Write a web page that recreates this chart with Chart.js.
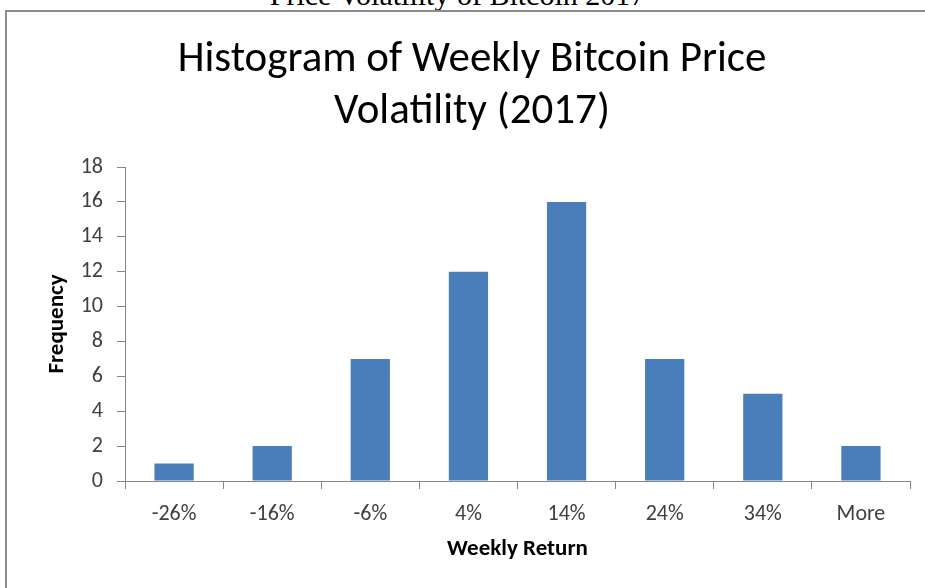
<!DOCTYPE html>
<html lang="en">
<head>
    <meta charset="UTF-8">
    <title>Histogram of Weekly Bitcoin Price Volatility (2017)</title>
    <script src="https://cdn.jsdelivr.net/npm/chart.js@4"></script>
    <style>
        html, body { margin: 0; padding: 0; background: #fff; overflow: hidden; }
        .page { position: relative; width: 925px; height: 588px; overflow: hidden; }
        .caption {
            position: absolute; left: -5px; width: 925px; top: -20px; line-height: 30px;
            text-align: center; font-size: 30px; font-family: "Liberation Serif", "DejaVu Serif", serif; color: #000;
        }
        .frame {
            position: absolute; left: 5px; top: 10px; width: 1000px; height: 700px;
            border-left: 2px solid #8c8c8c; border-top: 2px solid #8c8c8c;
        }
        canvas { position: absolute; left: 0; top: 0; }
    </style>
</head>
<body>
    <div class="page">
        <div class="caption">Price Volatility of Bitcoin 2017</div>
        <div class="frame"></div>
        <canvas id="histChart" width="925" height="588"></canvas>
    </div>

    <script>
        // chart data
        const categories = ['-26%', '-16%', '-6%', '4%', '14%', '24%', '34%', 'More'];
        const frequency = [1, 2, 7, 12, 16, 7, 5, 2];
        const yMin = 0, yMax = 18, yStep = 2;

        Chart.defaults.font.family = 'Carlito, Lato, sans-serif';
        const axisColor = '#868686';

        const ctx = document.getElementById('histChart').getContext('2d');
        new Chart(ctx, {
            type: 'bar',
            data: {
                labels: categories,
                datasets: [{
                    label: 'Frequency',
                    data: frequency,
                    backgroundColor: '#4a7ebb',
                    barPercentage: 0.4,
                    categoryPercentage: 1
                }]
            },
            options: {
                responsive: false,
                animation: false,
                layout: { padding: { left: 34, right: 15, top: 0, bottom: 0 } },
                plugins: {
                    legend: { display: false },
                    tooltip: { enabled: false },
                    title: {
                        display: true,
                        text: ['Histogram of Weekly Bitcoin Price', 'Volatility (2017)'],
                        color: '#000',
                        font: { size: 43, weight: 'normal', lineHeight: 1.21 },
                        padding: { top: 34, bottom: 29 }
                    }
                },
                scales: {
                    x: {
                        grid: { drawOnChartArea: false, tickLength: 8, color: axisColor },
                        border: { color: axisColor },
                        ticks: { color: '#404040', font: { size: 22 }, padding: 12 },
                        title: {
                            display: true, text: 'Weekly Return', color: '#000',
                            font: { size: 23, weight: 'bold', lineHeight: 1.2 },
                            padding: { top: 0, bottom: 25 }
                        },
                        afterFit: s => { s.height = 107; }
                    },
                    y: {
                        min: yMin, max: yMax,
                        grid: { drawOnChartArea: false, tickLength: 8, color: axisColor },
                        border: { color: axisColor },
                        ticks: { stepSize: yStep, color: '#404040', font: { size: 22 }, padding: 14 },
                        title: {
                            display: true, text: 'Frequency', color: '#000',
                            font: { size: 23, weight: 'bold', lineHeight: 1.2 },
                            padding: { top: 9, bottom: 0 }
                        },
                        afterFit: s => { s.width = 91; }
                    }
                }
            }
        });
    </script>
</body>
</html>
